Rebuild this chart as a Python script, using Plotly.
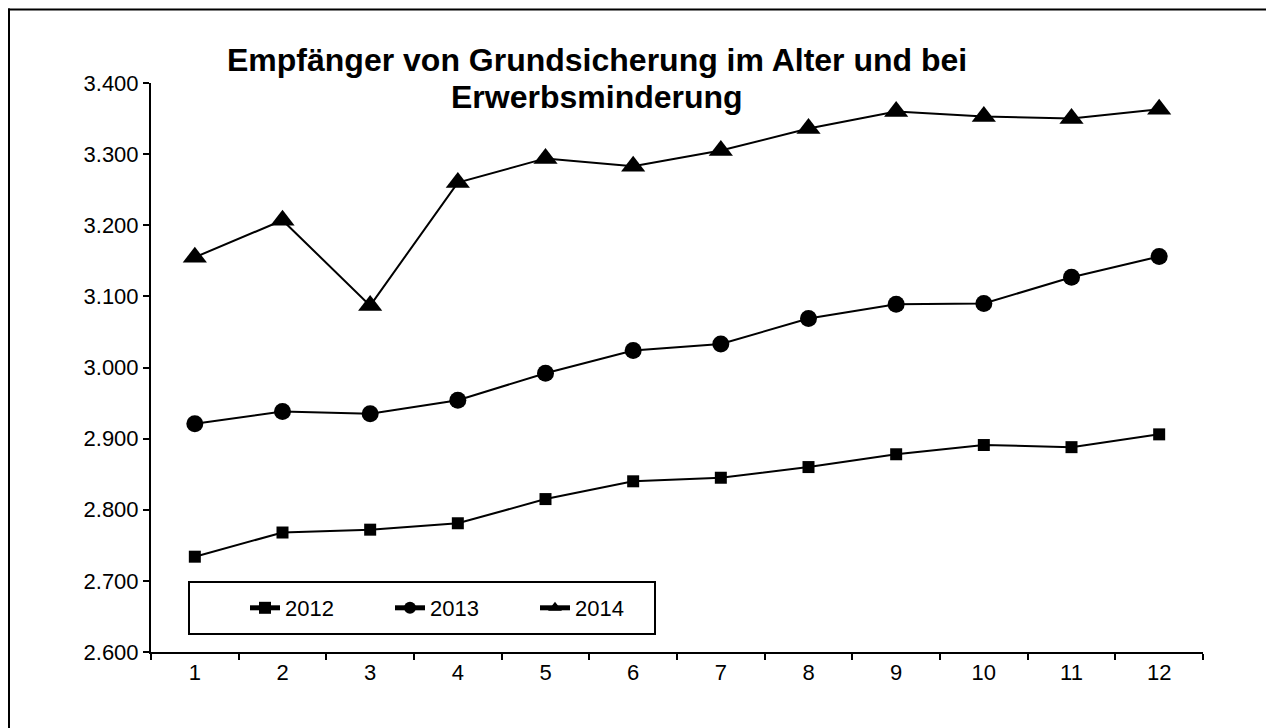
import plotly.graph_objects as go

months = ["1", "2", "3", "4", "5", "6", "7", "8", "9", "10", "11", "12"]
y2012 = [2734, 2768, 2772, 2781, 2815, 2840, 2845, 2860, 2878, 2891, 2888, 2906]
y2013 = [2921, 2938, 2935, 2954, 2992, 3024, 3033, 3069, 3089, 3090, 3127, 3156]
y2014 = [3155, 3207, 3087, 3260, 3294, 3283, 3305, 3336, 3360, 3353, 3350, 3363]
y_ticks = [2600, 2700, 2800, 2900, 3000, 3100, 3200, 3300, 3400]
title_lines = ["Empfänger von Grundsicherung im Alter und bei", "Erwerbsminderung"]

FONT = "Liberation Sans, Arial, sans-serif"

OFF = 8  # body margin of the html page
W, H = 1274 - 2 * OFF, 728 - OFF
# plot area in page pixels: x 151..1203, y 83..652
L, T = 151 - OFF, 83 - OFF
R = (W + OFF) - 1203
B = (H + OFF) - 652
PW, PH = W - L - R, H - T - B

def px(x_page):
    return (x_page - OFF - L) / PW

def py(y_page):
    return (H - B - (y_page - OFF)) / PH

fig = go.Figure()
series = [("2012", y2012, "square", 12), ("2013", y2013, "circle", 17), ("2014", y2014, "triangle-up", 21)]
for name, vals, sym, size in series:
    fig.add_trace(go.Scatter(
        x=months, y=vals, name=name, mode="lines+markers",
        line=dict(color="black", width=2),
        marker=dict(symbol=sym, size=size, color="black"),
    ))

frame = dict(color="black", width=2)
fig.update_layout(
    width=W, height=H,
    margin=dict(l=L, r=R, t=T, b=B),
    paper_bgcolor="white", plot_bgcolor="white",
    font=dict(family=FONT, size=22, color="black"),
    separators=",.",
    showlegend=True,
    legend=dict(
        orientation="h", x=px(245), xanchor="left", y=py(608), yanchor="middle",
        bgcolor="rgba(0,0,0,0)", borderwidth=0, itemsizing="constant",
        font=dict(family=FONT, size=22, color="black"),
        entrywidth=100, entrywidthmode="pixels",
    ),
    xaxis=dict(
        type="category", range=[-0.5, 11.5], tickson="boundaries",
        ticks="outside", ticklen=6, tickwidth=2, tickcolor="black",
        showline=True, linewidth=2, linecolor="black", showgrid=False, zeroline=False,
        tickfont=dict(family=FONT, size=22, color="black"),
    ),
    yaxis=dict(
        range=[2600, 3400], tickvals=y_ticks, tickformat=",d",
        ticks="outside", ticklen=6, tickwidth=2, tickcolor="black",
        showline=True, linewidth=2, linecolor="black", showgrid=False, zeroline=False,
        tickfont=dict(family=FONT, size=22, color="black"),
    ),
    shapes=[
        dict(type="line", xref="paper", yref="paper",
             x0=px(8), x1=px(1280), y0=py(9.5), y1=py(9.5), line=frame, layer="above"),
        dict(type="line", xref="paper", yref="paper",
             x0=px(9), x1=px(9), y0=py(8.5), y1=py(740), line=frame, layer="above"),
        dict(type="rect", xref="paper", yref="paper",
             x0=px(189), x1=px(655), y0=py(634), y1=py(582),
             line=frame, fillcolor="rgba(0,0,0,0)", layer="above"),
    ],
    annotations=[
        dict(text="<b>%s</b>" % title_lines[0], xref="paper", yref="paper",
             x=px(597), y=py(60), xanchor="center", yanchor="middle", showarrow=False,
             font=dict(family=FONT, size=32, color="black")),
        dict(text="<b>%s</b>" % title_lines[1], xref="paper", yref="paper",
             x=px(597), y=py(97), xanchor="center", yanchor="middle", showarrow=False,
             font=dict(family=FONT, size=32, color="black")),
    ],
)

fig.write_html("out.html")
